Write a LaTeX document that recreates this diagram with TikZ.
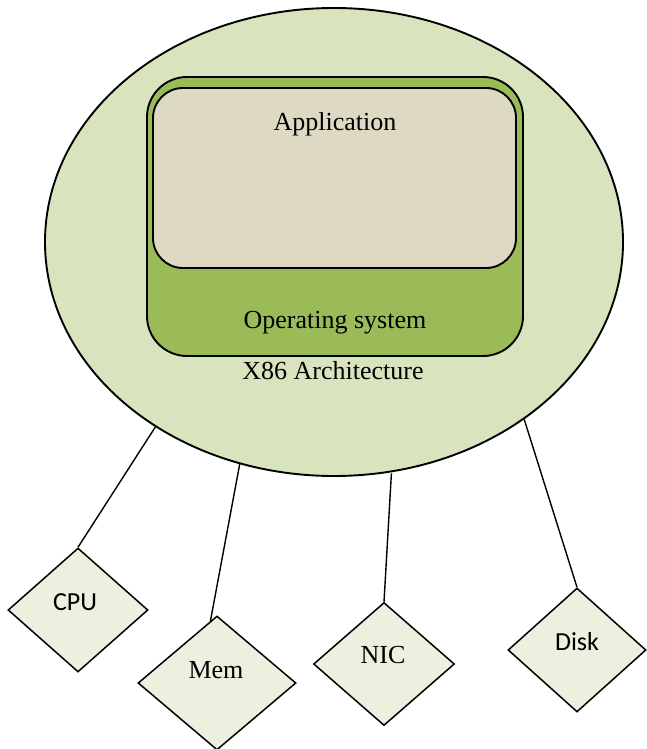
\documentclass[tikz,border=0pt]{standalone}
\usepackage{fontspec}
\setmainfont{Liberation Serif}
\newfontfamily\calib{Carlito}
\usetikzlibrary{shapes.geometric}

\definecolor{archfill}{HTML}{D7E4BD}
\definecolor{osfill}{HTML}{9BBB59}
\definecolor{appfill}{HTML}{DDD9C3}
\definecolor{devfill}{HTML}{EBF1DE}

\tikzset{
  archnode/.style={ellipse, draw, line width=1.9pt, fill=archfill, inner sep=0pt,
    minimum width=578pt, minimum height=468pt},
  layerbox/.style={draw, line width=1.9pt, inner sep=0pt},
  device/.style={diamond, draw, line width=1.5pt, fill=devfill, inner sep=0pt},
  txt/.style={inner sep=0pt, font=\fontsize{26}{30}\selectfont},
  stxt/.style={inner sep=0pt, font=\calib\fontsize{26}{30}\selectfont},
  link/.style={line width=1.4pt},
}

\begin{document}
\begin{tikzpicture}[x=1pt, y=-1pt]
  \useasboundingbox (0,0) rectangle (646,749);

  % x86 architecture
  \node[archnode] (arch) at (334,242) {};

  % operating system layer and application layer
  \node[layerbox, fill=osfill, rounded corners=40pt,
        minimum width=376pt, minimum height=279pt] (os) at (335,216.5) {};
  \node[layerbox, fill=appfill, rounded corners=30pt,
        minimum width=363pt, minimum height=180pt] (app) at (334.5,178) {};

  \node[txt, anchor=base] (appT) at (335,131) {Application};
  \node[txt, anchor=base] (osT) at (335,328) {Operating system};
  \node[txt, anchor=base] (archT) at (333,379) {X86 Architecture};

  % hardware devices
  \node[device, minimum width=140pt, minimum height=124pt] (cpu) at (78,610) {};
  \node[device, minimum width=158pt, minimum height=134pt] (mem) at (217,683) {};
  \node[device, minimum width=141pt, minimum height=123pt] (nic) at (384,664) {};
  \node[device, minimum width=138pt, minimum height=124pt] (disk) at (577,650) {};

  \node[stxt] (cpuT) at (75,602) {CPU};
  \node[txt] (memT) at (216,670) {Mem};
  \node[txt] (nicT) at (383,655) {NIC};
  \node[stxt] (diskT) at (577,642) {Disk};

  % connections
  \draw[link] (arch.226.8) -- (cpu.north);
  \draw[link] (arch.247) -- (mem.96);
  \draw[link] ([yshift=-1pt]arch.284) -- (nic.north);
  \draw[link] (arch.317) -- (disk.north);
\end{tikzpicture}
\end{document}
